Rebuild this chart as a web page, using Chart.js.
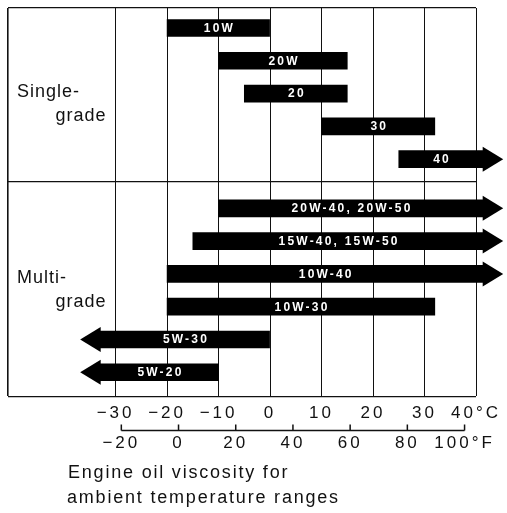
<!DOCTYPE html>
<html>
<head>
<meta charset="utf-8">
<script src="https://cdn.jsdelivr.net/npm/chart.js@4/dist/chart.umd.min.js"></script>
<style>
  html, body { margin: 0; padding: 0; background: #fff; }
  #wrap { width: 507px; height: 513px; }
</style>
</head>
<body>
<div id="wrap"><canvas id="c" width="507" height="513"></canvas></div>
<script>
// ---- data ----
const grades    = ['10W', '20W', '20', '30', '40',
                   '20W-40, 20W-50', '15W-40, 15W-50', '10W-40', '10W-30', '5W-30', '5W-20'];
const lowC      = [-20, -10, -5, 10, 25, -10, -15, -20, -20, -33, -33];
const highC     = [0, 15, 15, 32, 41.4, 41.4, 41.4, 41.4, 32, 0, -10];
const openLow   = [false, false, false, false, false, false, false, false, false, true, true];
const openHigh  = [false, false, false, false, true, true, true, true, false, false, false];
const groupOf   = [0, 0, 0, 0, 0, 1, 1, 1, 1, 1, 1];
const groupNames = [['Single-', 'grade'], ['Multi-', 'grade']];
const celsiusTicks    = [-30, -20, -10, 0, 10, 20, 30, 40];
const fahrenheitTicks = [-20, 0, 20, 40, 60, 80, 100];
const caption = ['Engine oil viscosity for', 'ambient temperature ranges'];

// ---- derived ----
const rowPos = grades.map((g, i) => i + 0.5 * groupOf[i]);
const lastOfGroup0 = rowPos[groupOf.lastIndexOf(0)];
const firstOfGroup1 = rowPos[groupOf.indexOf(1)];
const dividerVal = (lastOfGroup0 + firstOfGroup1) / 2 - 0.06;

const X_MIN = -50.9, X_MAX = 40;
const Y_MIN = -0.61, Y_MAX = 11.23;
const cToF = c => c * 9 / 5 + 32;
const FONT = '"Liberation Sans", Arial, Helvetica, sans-serif';
const INK = '#111';

function fmt(v) { return v < 0 ? '\u2212' + Math.abs(v) : String(v); }

const spacingPlugin = {
  id: 'spacing',
  beforeDraw(chart) { chart.ctx.letterSpacing = '3px'; },
  afterDraw(chart) { chart.ctx.letterSpacing = '0px'; }
};

const arrowPlugin = {
  id: 'arrows',
  afterDatasetsDraw(chart) {
    const meta = chart.getDatasetMeta(0);
    const ctx = chart.ctx;
    ctx.save();
    meta.data.forEach((bar, i) => {
      const p = bar.getProps(['x', 'base', 'y'], true);
      const left = Math.min(p.x, p.base), right = Math.max(p.x, p.base);
      const hh = 12.5, hl = 20;
      ctx.fillStyle = '#000';
      if (openHigh[i]) {
        ctx.beginPath();
        ctx.moveTo(right - 0.5, p.y - hh);
        ctx.lineTo(right + hl, p.y);
        ctx.lineTo(right - 0.5, p.y + hh);
        ctx.closePath();
        ctx.fill();
      }
      if (openLow[i]) {
        ctx.beginPath();
        ctx.moveTo(left + 0.5, p.y - hh);
        ctx.lineTo(left - hl, p.y);
        ctx.lineTo(left + 0.5, p.y + hh);
        ctx.closePath();
        ctx.fill();
      }
      ctx.fillStyle = '#fff';
      ctx.font = 'bold 12px ' + FONT;
      ctx.letterSpacing = '2.2px';
      ctx.textAlign = 'center';
      ctx.textBaseline = 'middle';
      ctx.fillText(grades[i], (left + right) / 2 + 1.1, p.y + 0.5);
    });
    ctx.restore();
  }
};

const textPlugin = {
  id: 'texts',
  afterDraw(chart) {
    const ctx = chart.ctx;
    const xs = chart.scales.x, ys = chart.scales.y, xf = chart.scales.xF;
    ctx.save();
    ctx.fillStyle = INK;
    ctx.strokeStyle = INK;
    // group labels
    ctx.font = '18px ' + FONT;
    ctx.letterSpacing = '1px';
    ctx.textBaseline = 'alphabetic';
    const bounds = [[ys.getPixelForValue(Y_MIN), ys.getPixelForValue(dividerVal)],
                    [ys.getPixelForValue(dividerVal), ys.getPixelForValue(Y_MAX)]];
    const offs = [2, -5.5];
    groupNames.forEach((lines, g) => {
      const cy = (bounds[g][0] + bounds[g][1]) / 2 + offs[g];
      ctx.textAlign = 'left';
      ctx.fillText(lines[0], chart.chartArea.left + 9, cy);
      ctx.textAlign = 'right';
      ctx.fillText(lines[1], xs.getPixelForValue(celsiusTicks[0]) - 9, cy + 24);
    });
    // Fahrenheit bracket
    const by = xf.top;
    const fx0 = xf.getPixelForValue(fahrenheitTicks[0]);
    const fx1 = xf.getPixelForValue(fahrenheitTicks[fahrenheitTicks.length - 1]);
    ctx.lineWidth = 1.5;
    ctx.beginPath();
    ctx.moveTo(fx0, by); ctx.lineTo(fx1, by);
    fahrenheitTicks.forEach(f => {
      const px = xf.getPixelForValue(f);
      ctx.moveTo(px, by); ctx.lineTo(px, by - 6);
    });
    ctx.stroke();
    // caption
    ctx.font = '18px ' + FONT;
    ctx.letterSpacing = '1.8px';
    ctx.textAlign = 'left';
    ctx.fillText(caption[0], 68, chart.height - 35);
    ctx.fillText(caption[1], 67, chart.height - 10);
    ctx.restore();
  }
};

new Chart(document.getElementById('c'), {
  type: 'bar',
  data: {
    datasets: [{
      data: grades.map((g, i) => ({ x: [lowC[i], highC[i]], y: rowPos[i] })),
      backgroundColor: '#000',
      borderWidth: 0,
      barThickness: 17,
      clip: false
    }]
  },
  options: {
    indexAxis: 'y',
    responsive: false,
    animation: false,
    devicePixelRatio: 1,
    layout: { padding: { left: 8, right: 31, top: 8, bottom: 56 } },
    plugins: { legend: { display: false }, tooltip: { enabled: false } },
    scales: {
      y: {
        type: 'linear',
        reverse: true,
        offset: false,
        min: Y_MIN, max: Y_MAX,
        afterBuildTicks: s => { s.ticks = [Y_MIN, dividerVal, Y_MAX].map(v => ({ value: v })); },
        ticks: { display: false },
        grid: { offset: false, color: INK, lineWidth: 1.2, drawTicks: false },
        border: { display: false }
      },
      x: {
        type: 'linear',
        position: 'bottom',
        min: X_MIN, max: X_MAX,
        afterBuildTicks: s => { s.ticks = [X_MIN, ...celsiusTicks].map(v => ({ value: v })); },
        ticks: {
          autoSkip: false, maxRotation: 0, minRotation: 0,
          padding: 7,
          color: INK,
          font: { family: FONT, size: 17 },
          callback: v => v === X_MIN ? '' : (v === celsiusTicks[celsiusTicks.length - 1] ? fmt(v) + '°C' : fmt(v))
        },
        grid: { color: INK, lineWidth: c => (c.tick && c.tick.value === X_MIN) ? 1.6 : 1, drawTicks: false },
        border: { display: false }
      },
      xF: {
        type: 'linear',
        position: 'bottom',
        min: cToF(X_MIN), max: cToF(X_MAX),
        afterBuildTicks: s => { s.ticks = fahrenheitTicks.map(v => ({ value: v })); },
        ticks: {
          autoSkip: false, maxRotation: 0, minRotation: 0,
          padding: 3,
          color: INK,
          font: { family: FONT, size: 17 },
          callback: v => v === fahrenheitTicks[fahrenheitTicks.length - 1] ? fmt(v) + '°F' : fmt(v)
        },
        grid: { display: false, drawTicks: false },
        border: { display: false }
      }
    }
  },
  plugins: [spacingPlugin, arrowPlugin, textPlugin]
});
</script>
</body>
</html>
